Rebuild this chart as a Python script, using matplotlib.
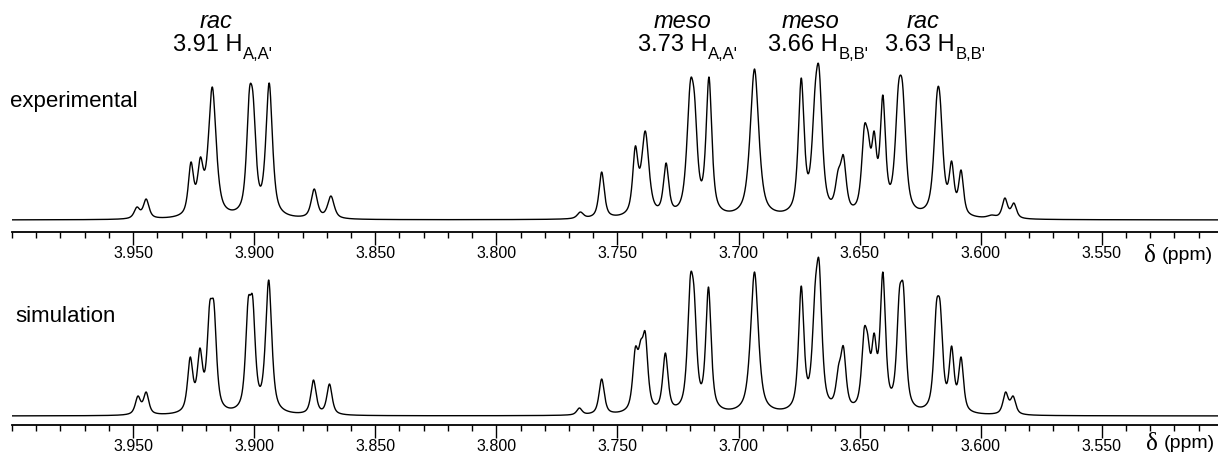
import numpy as np
import matplotlib
matplotlib.use("Agg")
from matplotlib import pyplot as plt

plt.rcParams['font.family'] = ['Liberation Sans', 'DejaVu Sans']

# peak positions (ppm), apparent heights and half widths (ppm)
exp_ppm = [3.9484, 3.9446, 3.9261, 3.9222, 3.9173, 3.9020, 3.9004, 3.8938,
           3.8752, 3.8683, 3.7653, 3.7565, 3.7426, 3.7385, 3.7299, 3.7199,
           3.7181, 3.7122, 3.6934, 3.6741, 3.6684, 3.6667, 3.6589, 3.6567,
           3.6480, 3.6464, 3.6440, 3.6404, 3.6340, 3.6322, 3.6181, 3.6168,
           3.6120, 3.6081, 3.5955, 3.5900, 3.5863]
exp_height = [13, 21, 58, 63, 133, 130, 124, 137,
              31, 24, 8, 48, 74, 89, 57, 139,
              123, 143, 151, 142, 133, 152, 50, 65,
              95, 87, 89, 125, 135, 135, 125, 124,
              59, 50, 5, 22, 17]
exp_width = [0.0014, 0.0014, 0.0013, 0.0014, 0.0019, 0.0014, 0.0014, 0.0016,
             0.0015, 0.0016, 0.0015, 0.0013, 0.0013, 0.0018, 0.0013, 0.0017,
             0.0014, 0.0014, 0.0021, 0.0014, 0.0016, 0.0016, 0.0014, 0.0014,
             0.0014, 0.0012, 0.0012, 0.0013, 0.0016, 0.0016, 0.0016, 0.0016,
             0.0012, 0.0012, 0.0020, 0.0013, 0.0013]

sim_ppm = [3.9480, 3.9446, 3.9264, 3.9224, 3.9184, 3.9166, 3.9025, 3.9006,
           3.8940, 3.8755, 3.8689, 3.7657, 3.7565, 3.7426, 3.7404, 3.7385,
           3.7302, 3.7199, 3.7183, 3.7124, 3.6934, 3.6741, 3.6684, 3.6667,
           3.6587, 3.6567, 3.6481, 3.6466, 3.6440, 3.6404, 3.6336, 3.6319,
           3.6183, 3.6167, 3.6120, 3.6081, 3.5897, 3.5866]
sim_height = [20, 24, 59, 68, 113, 113, 117, 119,
              136, 36, 32, 8, 37, 69, 76, 84,
              63, 140, 126, 129, 144, 130, 131, 155,
              51, 70, 88, 81, 83, 144, 126, 130,
              113, 113, 70, 59, 24, 20]
sim_width = [0.0013, 0.0013, 0.0013, 0.0013, 0.0013, 0.0013, 0.0013, 0.0013,
             0.0015, 0.0013, 0.0013, 0.0013, 0.0013, 0.0013, 0.0013, 0.0013,
             0.0013, 0.0014, 0.0013, 0.0013, 0.0019, 0.0013, 0.0014, 0.0014,
             0.0013, 0.0013, 0.0013, 0.0012, 0.0012, 0.0013, 0.0013, 0.0013,
             0.0013, 0.0013, 0.0012, 0.0012, 0.0013, 0.0013]

labels = [("rac", "3.91 H", "A,A'", 216, 173),
          ("meso", "3.73 H", "A,A'", 682, 638),
          ("meso", "3.66 H", "B,B'", 810, 768),
          ("rac", "3.63 H", "B,B'", 923, 885)]

W, H = 1218, 455


def shape(x, c, hw, eta=0.7):
    d = (x - c) / hw
    return eta / (1 + d ** 2) + (1 - eta) * np.exp(-np.log(2) * d ** 2)


def spectrum(x, pos, hgt, wid):
    pos = np.array(pos)
    hgt = np.array(hgt, float)
    wid = np.array(wid)
    amp = hgt.copy()
    for _ in range(300):
        s = (amp[None, :] * shape(pos[:, None], pos[None, :], wid[None, :])).sum(1)
        amp *= (hgt / s) ** 0.5
    return (amp[None, :] * shape(x[:, None], pos[None, :], wid[None, :])).sum(1)


x = np.linspace(4.0, 3.5, 6000)


def setup(ax, ylo):
    ax.patch.set_visible(False)
    ax.set_xlim(4.0, 3.502)
    ax.set_ylim(ylo, ylo + 172)
    for s in ['left', 'right', 'top']:
        ax.spines[s].set_visible(False)
    ax.spines['bottom'].set_linewidth(1.3)
    ax.set_yticks([])
    major = np.arange(3.55, 3.9501, 0.05)
    ax.set_xticks(major)
    ax.set_xticks(np.arange(3.51, 4.0001, 0.01), minor=True)
    ax.set_xticklabels(['%.3f' % v for v in major])
    ax.tick_params(axis='x', which='major', length=9, width=1, pad=1, labelsize=11.5)
    ax.tick_params(axis='x', which='minor', length=4, width=1)


fig = plt.figure(figsize=(12.18, 4.55), dpi=100)
ax1 = fig.add_axes([12 / W, 1 - 232 / H, 1 - 12 / W, 172 / H])
ax2 = fig.add_axes([12 / W, 1 - 425 / H, 1 - 12 / W, 172 / H])
setup(ax1, -12)
setup(ax2, -9)

ax1.plot(x, spectrum(x, exp_ppm, exp_height, exp_width), color='black', lw=1)
ax2.plot(x, spectrum(x, sim_ppm, sim_height, sim_width), color='black', lw=1)


def ftext(px, py, s, **kw):
    return fig.text(px / W, 1 - py / H, s, **kw)


ftext(10, 107, "experimental", fontsize=16, va='baseline')
ftext(15, 322, "simulation", fontsize=16, va='baseline')

for tag, main, sub, cx, lx in labels:
    ftext(cx, 21, tag, fontsize=17, style='italic', ha='center', va='center')
    t = ftext(lx, 51, main, fontsize=17, va='baseline')
    ax1.annotate(sub, xy=(1, 0), xycoords=t, xytext=(0.5, 1),
                 textcoords='offset points', fontsize=12, va='center',
                 ha='left', annotation_clip=False)

for py, px in [(256, 1144), (444, 1146)]:
    ftext(px, py, "δ", fontsize=18, family='Liberation Serif', va='center')
    ftext(px + 18, py, "(ppm)", fontsize=14, va='center')

fig.savefig("out.png", dpi=100)
